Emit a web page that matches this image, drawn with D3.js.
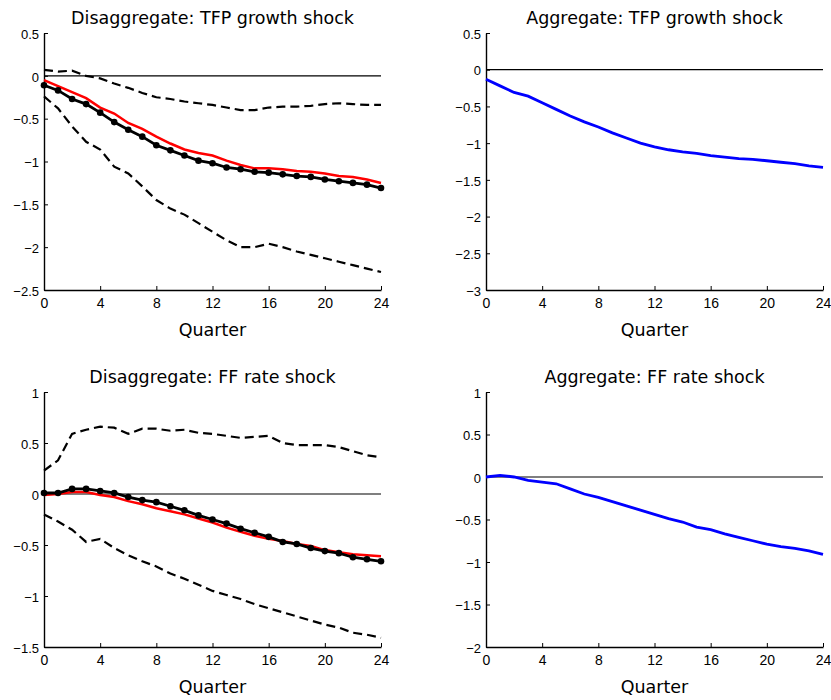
<!DOCTYPE html>
<html>
<head>
<meta charset="utf-8">
<script src="https://cdn.jsdelivr.net/npm/d3@7"></script>
<style>
  body { margin: 0; background: #fff; }
  svg { display: block; }
  text { fill: #000; }
</style>
</head>
<body>
<svg id="chart" width="831" height="700"></svg>
<script>
// ---- data ----
const quarters = d3.range(0, 25);
const xTicks = [0, 4, 8, 12, 16, 20, 24];

const titles = [
  "Disaggregate: TFP growth shock",
  "Aggregate: TFP growth shock",
  "Disaggregate: FF rate shock",
  "Aggregate: FF rate shock"
];
const xLabel = "Quarter";

const yTicksTFPDis = [0.5, 0, -0.5, -1, -1.5, -2, -2.5];
const yTicksTFPAgg = [0.5, 0, -0.5, -1, -1.5, -2, -2.5, -3];
const yTicksFFDis = [1, 0.5, 0, -0.5, -1, -1.5];
const yTicksFFAgg = [1, 0.5, 0, -0.5, -1, -1.5, -2];

// Disaggregate TFP growth shock
const tfpDisMedian = [-0.11, -0.17, -0.27, -0.33, -0.43, -0.54, -0.63, -0.71, -0.81, -0.87, -0.93, -0.99, -1.02, -1.07, -1.09, -1.12, -1.13, -1.15, -1.17, -1.18, -1.21, -1.23, -1.25, -1.27, -1.31];
const tfpDisRed = [-0.05, -0.12, -0.19, -0.26, -0.37, -0.44, -0.55, -0.62, -0.71, -0.79, -0.86, -0.90, -0.93, -0.99, -1.04, -1.08, -1.08, -1.09, -1.11, -1.12, -1.14, -1.17, -1.18, -1.21, -1.25];
const tfpDisUpper = [0.07, 0.05, 0.06, 0.00, -0.03, -0.09, -0.14, -0.20, -0.25, -0.27, -0.30, -0.32, -0.34, -0.37, -0.40, -0.40, -0.37, -0.36, -0.36, -0.35, -0.33, -0.32, -0.33, -0.34, -0.34];
const tfpDisLower = [-0.24, -0.38, -0.59, -0.77, -0.86, -1.06, -1.14, -1.29, -1.45, -1.55, -1.62, -1.72, -1.82, -1.92, -2.00, -2.00, -1.96, -2.00, -2.05, -2.09, -2.13, -2.17, -2.21, -2.25, -2.29];

// Aggregate TFP growth shock
const tfpAgg = [-0.13, -0.22, -0.31, -0.36, -0.45, -0.54, -0.63, -0.71, -0.78, -0.86, -0.93, -1.00, -1.05, -1.09, -1.12, -1.14, -1.17, -1.19, -1.21, -1.22, -1.24, -1.26, -1.28, -1.31, -1.33];

// Disaggregate FF rate shock
const ffDisMedian = [0.01, 0.01, 0.05, 0.05, 0.03, 0.01, -0.03, -0.06, -0.08, -0.12, -0.16, -0.21, -0.25, -0.29, -0.34, -0.38, -0.42, -0.47, -0.49, -0.53, -0.56, -0.58, -0.62, -0.64, -0.66];
const ffDisRed = [-0.01, 0.00, 0.02, 0.02, -0.01, -0.03, -0.07, -0.10, -0.14, -0.17, -0.20, -0.24, -0.28, -0.33, -0.37, -0.41, -0.44, -0.46, -0.49, -0.51, -0.55, -0.57, -0.59, -0.60, -0.61];
const ffDisUpper = [0.23, 0.33, 0.59, 0.63, 0.66, 0.65, 0.59, 0.64, 0.64, 0.62, 0.63, 0.60, 0.59, 0.57, 0.55, 0.56, 0.57, 0.50, 0.48, 0.48, 0.48, 0.46, 0.42, 0.38, 0.36];
const ffDisLower = [-0.20, -0.27, -0.35, -0.47, -0.44, -0.53, -0.60, -0.66, -0.71, -0.78, -0.83, -0.89, -0.95, -0.99, -1.03, -1.08, -1.12, -1.16, -1.20, -1.24, -1.28, -1.31, -1.36, -1.38, -1.41];

// Aggregate FF rate shock
const ffAgg = [0.00, 0.02, 0.00, -0.04, -0.06, -0.08, -0.14, -0.20, -0.24, -0.29, -0.34, -0.39, -0.44, -0.49, -0.53, -0.59, -0.62, -0.67, -0.71, -0.75, -0.79, -0.82, -0.84, -0.87, -0.91];

// ---- layout ----
const panels = [
  { title: titles[0], x0: 44, x1: 381, y0: 33, y1: 290, yDomain: [-2.5, 0.5], yTicks: yTicksTFPDis,
    dashed: [tfpDisUpper, tfpDisLower], red: tfpDisRed, median: tfpDisMedian },
  { title: titles[1], x0: 486, x1: 823, y0: 33, y1: 290, yDomain: [-3, 0.5], yTicks: yTicksTFPAgg,
    blue: tfpAgg },
  { title: titles[2], x0: 44, x1: 381, y0: 392, y1: 647, yDomain: [-1.5, 1], yTicks: yTicksFFDis,
    dashed: [ffDisUpper, ffDisLower], red: ffDisRed, median: ffDisMedian },
  { title: titles[3], x0: 486, x1: 823, y0: 392, y1: 647, yDomain: [-2, 1], yTicks: yTicksFFAgg,
    blue: ffAgg }
];

const svg = d3.select("#chart");
const fmt = d => d3.format("")(d).replace("-", "\u2212");
const tickFont = '"Liberation Sans", Arial, sans-serif';
const labelFont = '"DejaVu Sans", sans-serif';

panels.forEach(p => {
  const g = svg.append("g");
  const x = d3.scaleLinear().domain([0, 24]).range([p.x0, p.x1]);
  const y = d3.scaleLinear().domain(p.yDomain).range([p.y1, p.y0]);
  const line = d3.line().x((d, i) => x(quarters[i])).y(d => y(d));

  // zero line
  g.append("line")
    .attr("x1", x(0)).attr("x2", x(24))
    .attr("y1", y(0)).attr("y2", y(0))
    .attr("stroke", "#000").attr("stroke-width", 1.2);

  // axes
  const xAxis = d3.axisBottom(x).tickValues(xTicks).tickFormat(d3.format("d"))
    .tickSizeInner(-4).tickSizeOuter(0).tickPadding(8);
  const gx = g.append("g").attr("transform", `translate(0,${p.y1})`).call(xAxis);
  const yAxis = d3.axisLeft(y).tickValues(p.yTicks).tickFormat(fmt)
    .tickSizeInner(-4).tickSizeOuter(0).tickPadding(5);
  const gy = g.append("g").attr("transform", `translate(${p.x0},0)`).call(yAxis);
  [gx, gy].forEach(a => {
    a.selectAll("path").attr("stroke", "#000").attr("stroke-width", 1.4);
    a.selectAll("line").attr("stroke", "#000").attr("stroke-width", 1);
    a.selectAll("text").style("font-family", tickFont).attr("fill", "#000");
  });
  gx.selectAll("text").style("font-size", "14px");
  gy.selectAll("text").style("font-size", "13px").attr("dy", "0.4em");

  // title
  g.append("text")
    .attr("x", (p.x0 + p.x1) / 2).attr("y", p.y0 - 9)
    .attr("text-anchor", "middle")
    .style("font-family", labelFont).style("font-size", "17.5px")
    .text(p.title);
  // x label
  g.append("text")
    .attr("x", (p.x0 + p.x1) / 2).attr("y", p.y1 + 46)
    .attr("text-anchor", "middle")
    .style("font-family", labelFont).style("font-size", "17.5px")
    .text(xLabel);

  if (p.dashed) {
    p.dashed.forEach(s => {
      g.append("path").datum(s).attr("d", line)
        .attr("fill", "none").attr("stroke", "#000")
        .attr("stroke-width", 2.2).attr("stroke-dasharray", "9,5");
    });
  }
  if (p.red) {
    g.append("path").datum(p.red).attr("d", line)
      .attr("fill", "none").attr("stroke", "#ff0000").attr("stroke-width", 2.5);
  }
  if (p.median) {
    g.append("path").datum(p.median).attr("d", line)
      .attr("fill", "none").attr("stroke", "#000").attr("stroke-width", 2.8);
    g.selectAll(".dot").data(p.median).enter().append("circle")
      .attr("cx", (d, i) => x(quarters[i])).attr("cy", d => y(d))
      .attr("r", 3.3).attr("fill", "#000");
  }
  if (p.blue) {
    g.append("path").datum(p.blue).attr("d", line)
      .attr("fill", "none").attr("stroke", "#0000ff").attr("stroke-width", 2.8);
  }
});
</script>
</body>
</html>
